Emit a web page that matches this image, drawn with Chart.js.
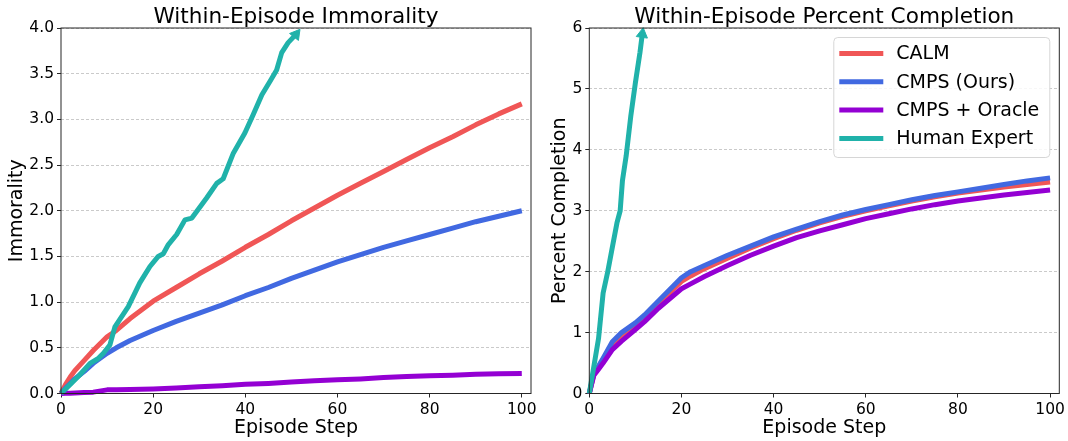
<!DOCTYPE html>
<html><head><meta charset="utf-8">
<script src="https://cdn.jsdelivr.net/npm/chart.js@4"></script>
<style>
html,body{margin:0;padding:0;background:#fff;overflow:hidden;width:1068px;height:441px}
canvas{position:absolute;top:0}
#c1{left:0}#c2{left:540px}
</style>
</head><body>
<canvas id="c1" width="540" height="441"></canvas>
<canvas id="c2" width="528" height="441"></canvas>
<script>
// ---------- data ----------
const seriesNames = ['CALM', 'CMPS (Ours)', 'CMPS + Oracle', 'Human Expert'];
const seriesColors = ['#F05656', '#4169E1', '#9400D3', '#20B2AA'];
const xTicks = [0, 20, 40, 60, 80, 100];
const immTicks = [0, 0.5, 1, 1.5, 2, 2.5, 3, 3.5, 4];
const pctTicks = [0, 1, 2, 3, 4, 5, 6];

// Left: within-episode immorality
const immSteps = [0,1,2,3,5,7,10,12,15,20,25,30,35,40,45,50,55,60,65,70,75,80,85,90,95,100];
const immCALM  = [0,0.10,0.18,0.25,0.36,0.47,0.62,0.69,0.82,1.01,1.16,1.31,1.45,1.60,1.74,1.89,2.03,2.17,2.30,2.43,2.56,2.69,2.81,2.94,3.06,3.17];
const immCMPS  = [0,0.06,0.11,0.16,0.24,0.33,0.44,0.50,0.58,0.69,0.79,0.88,0.97,1.07,1.16,1.26,1.35,1.44,1.52,1.60,1.67,1.74,1.81,1.88,1.94,2.00];
const immOracle= [0,0.002,0.004,0.006,0.01,0.015,0.04,0.042,0.045,0.05,0.06,0.075,0.085,0.10,0.11,0.125,0.14,0.15,0.16,0.175,0.185,0.195,0.20,0.21,0.215,0.22];
const immHumanSteps = [0,2,4,6.3,8,9.2,10.6,11.7,14.6,17.1,19.3,21.1,22.2,23.3,25.1,26.9,28.4,31.6,33.8,35.2,37.4,39.9,41.7,43.6,45.4,46.8,47.9,49.3,51.0];
const immHuman = [0,0.10,0.20,0.33,0.38,0.44,0.53,0.73,0.95,1.21,1.39,1.50,1.53,1.63,1.74,1.90,1.92,2.14,2.30,2.35,2.63,2.85,3.05,3.27,3.42,3.54,3.73,3.84,3.93];

// Right: within-episode percent completion
const pctSteps = [0,1,2,3,5,7,10,12,15,20,22,25,30,35,40,45,50,55,60,65,70,75,80,85,90,95,100];
const pctCALM  = [0,0.32,0.42,0.55,0.80,0.95,1.12,1.25,1.48,1.84,1.93,2.05,2.22,2.39,2.54,2.68,2.80,2.91,3.00,3.08,3.16,3.23,3.29,3.34,3.39,3.43,3.47];
const pctCMPS  = [0,0.34,0.45,0.58,0.85,1.00,1.16,1.29,1.52,1.90,2.00,2.10,2.27,2.42,2.57,2.70,2.82,2.93,3.02,3.10,3.18,3.25,3.31,3.37,3.43,3.49,3.54];
const pctOracle= [0,0.30,0.40,0.50,0.72,0.86,1.05,1.18,1.40,1.72,1.80,1.92,2.10,2.27,2.42,2.56,2.67,2.77,2.87,2.95,3.03,3.10,3.16,3.21,3.26,3.30,3.34];
const pctHumanSteps = [0,1,2,3,4,5,6,6.7,7.2,8,9,10,11,11.5];
const pctHuman = [0,0.45,0.90,1.65,2.00,2.40,2.80,3.00,3.50,3.90,4.55,5.10,5.60,5.90];

// ---------- helpers ----------
const FONT = '"DejaVu Sans", Verdana, sans-serif';
const pts = (xs, ys) => xs.map((x, i) => ({x, y: ys[i]}));

function arrowRotation(ctx) {
  const d = ctx.dataset.data, n = d.length;
  const sx = ctx.chart.scales.x, sy = ctx.chart.scales.y;
  if (!sx || !sy || n < 3) return 0;
  const dx = sx.getPixelForValue(d[n-1].x) - sx.getPixelForValue(d[n-3].x);
  const dy = sy.getPixelForValue(d[n-1].y) - sy.getPixelForValue(d[n-3].y);
  return Math.atan2(dx, -dy) * 180 / Math.PI;
}

function makeDatasets(series) {
  return series.map((s, i) => {
    const isHuman = i === 3;
    return {
      label: seriesNames[i],
      data: s,
      borderColor: seriesColors[i],
      backgroundColor: seriesColors[i],
      borderWidth: 5,
      borderJoinStyle: 'round',
      borderCapStyle: 'butt',
      tension: 0,
      fill: false,
      order: 4 - i,
      clip: 10,
      pointStyle: 'triangle',
      pointRadius: isHuman ? (c => c.dataIndex === c.dataset.data.length - 1 ? 6.5 : 0) : 0,
      pointHoverRadius: 0,
      pointBorderWidth: 1,
      pointBorderColor: seriesColors[i],
      pointBackgroundColor: seriesColors[i],
      pointRotation: isHuman ? arrowRotation : 0
    };
  });
}

const titlePlugin = {
  id: 'axTitle',
  afterDraw(chart, args, opts) {
    const {ctx, chartArea} = chart;
    ctx.save();
    ctx.font = '21.6px ' + FONT;
    ctx.fillStyle = '#000';
    ctx.textAlign = 'center';
    ctx.textBaseline = 'alphabetic';
    ctx.fillText(opts.text, (chartArea.left + chartArea.right) / 2, opts.baseline);
    ctx.restore();
  }
};

const framePlugin = {
  id: 'frame',
  afterDatasetsDraw(chart) {
    const {ctx, chartArea: a} = chart;
    ctx.save();
    ctx.strokeStyle = '#262626';
    ctx.lineWidth = 1;
    ctx.strokeRect(a.left, a.top, a.right - a.left, a.bottom - a.top);
    ctx.restore();
  }
};

const legendPlugin = {
  id: 'boxLegend',
  afterDraw(chart, args, opts) {
    if (!opts.show) return;
    const {ctx, chartArea: a} = chart;
    const w = 216, h = 120;
    const x0 = a.right - 10 - w, y0 = a.top + 9;
    ctx.save();
    ctx.beginPath();
    if (ctx.roundRect) ctx.roundRect(x0 + 0.5, y0 + 0.5, w, h, 4); else ctx.rect(x0 + 0.5, y0 + 0.5, w, h);
    ctx.fillStyle = 'rgba(255,255,255,0.85)';
    ctx.fill();
    ctx.strokeStyle = '#d6d6d6';
    ctx.lineWidth = 1;
    ctx.stroke();
    ctx.font = '19px ' + FONT;
    ctx.textAlign = 'left';
    ctx.textBaseline = 'middle';
    chart.data.datasets.forEach((ds, i) => {
      const yy = y0 + 16.5 + i * 28.3;
      ctx.strokeStyle = ds.borderColor;
      ctx.lineWidth = 5;
      ctx.beginPath();
      ctx.moveTo(x0 + 6, yy);
      ctx.lineTo(x0 + 50, yy);
      ctx.stroke();
      ctx.fillStyle = '#000';
      ctx.fillText(ds.label, x0 + 63, yy + 1);
    });
    ctx.restore();
  }
};

function makeChart(canvasId, cfg) {
  return new Chart(document.getElementById(canvasId), {
    type: 'line',
    data: {datasets: makeDatasets(cfg.series)},
    plugins: [titlePlugin, framePlugin, legendPlugin],
    options: {
      responsive: false,
      animation: false,
      devicePixelRatio: 1,
      events: [],
      layout: {padding: {top: 28, right: cfg.rightPad, bottom: 0, left: 0}},
      plugins: {
        legend: {display: false},
        tooltip: {enabled: false},
        title: {display: false},
        axTitle: {text: cfg.title, baseline: 22.5},
        boxLegend: {show: cfg.legend}
      },
      scales: {
        x: {
          type: 'linear',
          min: 0, max: 102,
          afterBuildTicks: s => { s.ticks = xTicks.map(v => ({value: v})); },
          afterFit: s => { s.height = 47.5; s.paddingLeft = 0; s.paddingRight = 0; },
          border: {display: false},
          grid: {drawOnChartArea: false, drawTicks: true, tickLength: 4, tickColor: '#262626', tickWidth: 1},
          ticks: {color: '#000', font: {family: FONT, size: 15.5}, padding: 3, maxRotation: 0, autoSkip: false,
                  callback: v => String(v)},
          title: {display: true, text: 'Episode Step', color: '#000', font: {family: FONT, size: 19}, padding: {top: 0, bottom: 2}}
        },
        y: {
          type: 'linear',
          min: 0, max: cfg.yMax,
          afterBuildTicks: s => { s.ticks = cfg.yTicks.map(v => ({value: v})); },
          afterFit: s => { s.width = cfg.yWidth; s.paddingTop = 0; s.paddingBottom = 0; },
          border: {display: false, dash: [3, 2]},
          grid: {drawOnChartArea: true, drawTicks: true, tickLength: 4, color: '#bdbdbd', lineWidth: 0.8,
                 tickColor: '#262626', tickWidth: 1, tickBorderDash: []},
          ticks: {color: '#000', font: {family: FONT, size: 15.5}, padding: 3, autoSkip: false,
                  callback: v => cfg.yFmt(v)},
          title: {display: true, text: cfg.yTitle, color: '#000', font: {family: FONT, size: 19}, padding: {top: cfg.yTitlePad, bottom: 0}}
        }
      }
    }
  });
}

makeChart('c1', {
  title: 'Within-Episode Immorality',
  yTitle: 'Immorality',
  series: [pts(immSteps, immCALM), pts(immSteps, immCMPS), pts(immSteps, immOracle), pts(immHumanSteps, immHuman)],
  yMax: 4, yTicks: immTicks, yFmt: v => v.toFixed(1),
  yWidth: 61, rightPad: 9, yTitlePad: 6, legend: false
});

makeChart('c2', {
  title: 'Within-Episode Percent Completion',
  yTitle: 'Percent Completion',
  series: [pts(pctSteps, pctCALM), pts(pctSteps, pctCMPS), pts(pctSteps, pctOracle), pts(pctHumanSteps, pctHuman)],
  yMax: 6, yTicks: pctTicks, yFmt: v => String(v),
  yWidth: 49.3, rightPad: 8.7, yTitlePad: 8.5, legend: true
});
</script>
</body></html>
